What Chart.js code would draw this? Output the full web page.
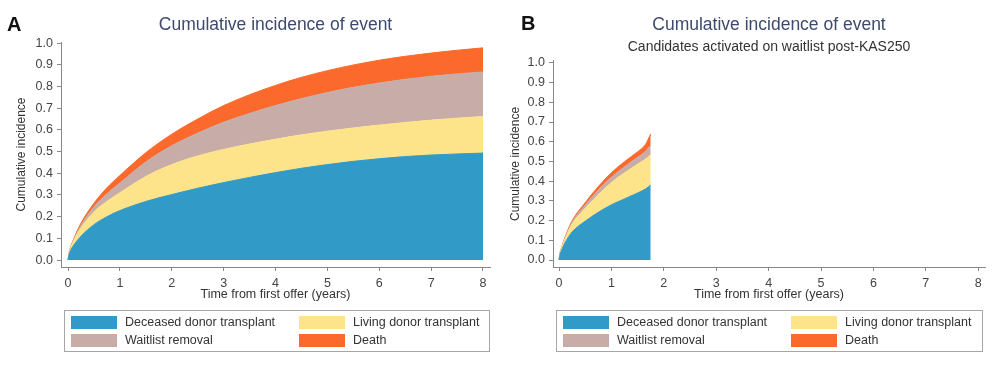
<!DOCTYPE html>
<html>
<head>
<meta charset="utf-8">
<script src="https://cdn.jsdelivr.net/npm/chart.js@4"></script>
<style>
  body { margin: 0; background: #fff; }
  .panel { position: absolute; top: 0; width: 500px; height: 370px; }
</style>
</head>
<body>
<div class="panel" style="left:0"><canvas id="chartA" width="500" height="370"></canvas></div>
<div class="panel" style="left:500px"><canvas id="chartB" width="500" height="370"></canvas></div>
<script>
// event names and colours
const eventLabels = ['Deceased donor transplant', 'Living donor transplant', 'Waitlist removal', 'Death'];
const eventColors = ['#319ac7', '#fde48b', '#c8aca7', '#fb6a2c'];

// tick labels
const xTicks = [0, 1, 2, 3, 4, 5, 6, 7, 8];
const yTicks = [0, 0.1, 0.2, 0.3, 0.4, 0.5, 0.6, 0.7, 0.8, 0.9, 1.0];

// panel A: all candidates (cumulative incidence of each event, stacked)
const timesA = [0, 0.02, 0.05, 0.1, 0.25, 0.5, 0.75, 1, 1.5, 2, 2.5, 3, 3.5, 4, 4.5, 5, 5.5, 6, 6.5, 7, 7.5, 8];
const deceasedA = [0, 0.025, 0.045, 0.065, 0.11, 0.163, 0.2, 0.228, 0.27, 0.302, 0.331, 0.357, 0.381, 0.403, 0.423, 0.440, 0.455, 0.467, 0.477, 0.484, 0.489, 0.493];
const livingA = [0, 0.005, 0.01, 0.02, 0.038, 0.059, 0.07, 0.082, 0.115, 0.138, 0.149, 0.153, 0.154, 0.154, 0.154, 0.154, 0.154, 0.155, 0.157, 0.161, 0.165, 0.169];
const waitlistA = [0, 0.001, 0.002, 0.003, 0.012, 0.023, 0.035, 0.045, 0.067, 0.087, 0.105, 0.125, 0.141, 0.155, 0.167, 0.178, 0.187, 0.194, 0.199, 0.202, 0.204, 0.205];
const deathA = [0, 0.001, 0.003, 0.004, 0.01, 0.017, 0.028, 0.035, 0.043, 0.053, 0.065, 0.077, 0.086, 0.093, 0.098, 0.101, 0.103, 0.105, 0.106, 0.107, 0.109, 0.111];

// panel B: candidates activated post-KAS250
const timesB = [0, 0.02, 0.05, 0.1, 0.25, 0.5, 0.75, 1, 1.25, 1.5, 1.65, 1.75];
const deceasedB = [0, 0.03, 0.05, 0.08, 0.142, 0.197, 0.242, 0.28, 0.31, 0.34, 0.36, 0.38];
const livingB = [0, 0.005, 0.01, 0.018, 0.04, 0.065, 0.09, 0.113, 0.132, 0.146, 0.152, 0.154];
const waitlistB = [0, 0.001, 0.002, 0.004, 0.01, 0.017, 0.023, 0.027, 0.031, 0.035, 0.039, 0.048];
const deathB = [0, 0.001, 0.002, 0.003, 0.007, 0.012, 0.018, 0.023, 0.026, 0.028, 0.035, 0.058];

const FONT = '"Liberation Sans", Arial, sans-serif';
Chart.defaults.font.family = FONT;

const panelLetter = {
    id: 'panelLetter',
    afterDraw(chart, args, opts) {
        const ctx = chart.ctx;
        ctx.save();
        ctx.font = 'bold 20px ' + FONT;
        ctx.fillStyle = '#111';
        ctx.textBaseline = 'middle';
        ctx.fillText(opts.text, opts.x, opts.y);
        ctx.restore();
    }
};

// boxed 2x2 legend under the axis, like the Stata one
const boxLegend = {
    id: 'boxLegend',
    afterDraw(chart, args, opts) {
        const { ctx, chartArea } = chart;
        const left = chartArea.left + opts.insetLeft;
        const right = chartArea.right - opts.insetRight;
        const top = chartArea.bottom + 43;
        ctx.save();
        ctx.strokeStyle = '#a6a6a6';
        ctx.lineWidth = 1;
        ctx.strokeRect(Math.round(left) + 0.5, Math.round(top) + 0.5, Math.round(right - left), 41);
        ctx.font = '12.5px ' + FONT;
        ctx.textBaseline = 'middle';
        chart.data.datasets.forEach((ds, i) => {
            const x = left + 7 + (i % 2) * 228;
            const cy = top + 12.5 + Math.floor(i / 2) * 18;
            ctx.fillStyle = ds.backgroundColor;
            ctx.fillRect(x, cy - 6.5, 46, 13);
            ctx.fillStyle = '#333';
            ctx.fillText(ds.label, x + 54, cy);
        });
        ctx.restore();
    }
};

const toPoints = (times, values) => times.map((t, i) => ({ x: t, y: values[i] }));

function makeChart(id, cfg) {
    const series = cfg.series;
    return new Chart(document.getElementById(id), {
        type: 'line',
        data: {
            datasets: series.map((values, i) => ({
                label: eventLabels[i],
                data: toPoints(cfg.times, values),
                backgroundColor: eventColors[i],
                borderColor: eventColors[i],
                borderWidth: 1,
                pointRadius: 0,
                cubicInterpolationMode: 'monotone',
                fill: i === 0 ? 'origin' : '-1'
            }))
        },
        options: {
            responsive: false,
            animation: false,
            devicePixelRatio: 1,
            layout: { padding: cfg.padding },
            plugins: {
                legend: { display: false },
                tooltip: { enabled: false },
                title: {
                    display: true,
                    text: 'Cumulative incidence of event',
                    fullSize: false,
                    color: '#3e4a6d',
                    font: { size: 17.5, weight: 'normal' },
                    padding: cfg.titlePadding
                },
                subtitle: {
                    display: !!cfg.subtitle,
                    text: cfg.subtitle || '',
                    fullSize: false,
                    color: '#333',
                    font: { size: 14 },
                    padding: { top: 1, bottom: 5.6 }
                },
                panelLetter: cfg.letter,
                boxLegend: cfg.legendInset
            },
            scales: {
                x: {
                    type: 'linear',
                    min: cfg.xMin,
                    max: cfg.xMax,
                    afterBuildTicks: s => { s.ticks = xTicks.map(v => ({ value: v })); },
                    afterFit: s => { s.height = 35.5; },
                    grid: { drawOnChartArea: false, drawTicks: true, tickLength: 4, tickColor: '#888' },
                    border: { color: '#888' },
                    ticks: { color: '#444', font: { size: 12.5 }, padding: 5, maxRotation: 0 },
                    title: { display: true, text: 'Time from first offer (years)', color: '#333', font: { size: 12.5 }, padding: 0 }
                },
                y: {
                    stacked: true,
                    min: cfg.yMin,
                    max: cfg.yMax,
                    afterBuildTicks: s => { s.ticks = yTicks.map(v => ({ value: v })); },
                    afterFit: s => { s.width = cfg.yWidth; },
                    grid: { drawOnChartArea: false, drawTicks: true, tickLength: 4, tickColor: '#888' },
                    border: { color: '#888' },
                    ticks: { color: '#444', font: { size: 12.5 }, padding: 4, callback: v => v.toFixed(1) },
                    title: { display: true, text: 'Cumulative incidence', color: '#333', font: { size: 12 }, padding: 0 }
                }
            }
        },
        plugins: [panelLetter, boxLegend]
    });
}

makeChart('chartA', {
    times: timesA,
    series: [deceasedA, livingA, waitlistA, deathA],
    padding: { left: 14, right: 10, top: 0, bottom: 67.5 },
    titlePadding: { top: 14.5, bottom: 6.5 },
    xMin: -0.135, xMax: 8.135,
    yMin: -0.032, yMax: 1.005,
    yWidth: 47,
    letter: { text: 'A', x: 7, y: 25 },
    legendInset: { insetLeft: 3, insetRight: 1 }
});

makeChart('chartB', {
    times: timesB,
    series: [deceasedB, livingB, waitlistB, deathB],
    subtitle: 'Candidates activated on waitlist post-KAS250',
    padding: { left: 8, right: 15, top: 0, bottom: 67.5 },
    titlePadding: { top: 14.5, bottom: 2 },
    xMin: -0.115, xMax: 8.13,
    yMin: -0.0355, yMax: 1.01,
    yWidth: 45,
    letter: { text: 'B', x: 21, y: 24 },
    legendInset: { insetLeft: 3, insetRight: 3 }
});
</script>
</body>
</html>
